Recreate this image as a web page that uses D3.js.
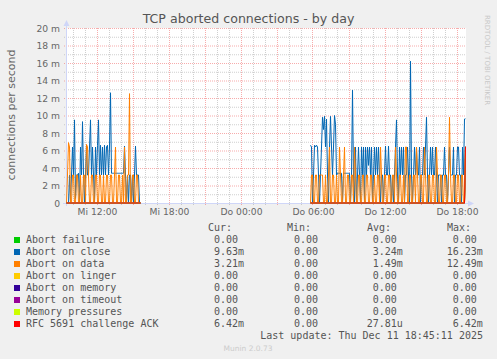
<!DOCTYPE html>
<html><head><meta charset="utf-8">
<script src="https://cdn.jsdelivr.net/npm/d3@7"></script>
<style>
html,body{margin:0;padding:0;background:#f0f0f0;}
svg{display:block;}
</style></head>
<body>
<svg id="chart" width="497" height="359"></svg>
<script>
// ---------- data (values in milli-connections per second, 5-minute steps) ----------
const seg1Start = new Date(2025, 11, 10, 9, 30);
const seg2Start = new Date(2025, 11, 11, 5, 50);
const stepMinutes = 5;

const close1 = [
  0, 0, 0, 3.2, 0, 3.2, 6.4, 3.2, 9.5, 0.5,
  3.2, 3.2, 3.4, 0, 6.4, 3.2, 9.3, 3.2, 0, 3.2,
  6.6, 3.2, 3.2, 6.4, 9.5, 3.2, 6.4, 3.2, 0, 6.4,
  3.2, 6.6, 9.5, 3.2, 6.6, 3.2, 6.4, 3.2, 6.6, 3.2,
  6.4, 6.6, 3.2, 6.4, 12.6, 3.4, 3.4, 3.4, 3.4, 3.4,
  3.4, 3.4, 3.4, 3.4, 3.4, 3.4, 3.4, 3.4, 6.5, 3.2,
  0, 3.2, 0, 3.2, 3.2, 0, 3.2, 0, 3.2, 6.5,
  3.2, 3.2, 3.2, 0, 0
];
const data1 = [
  0, 3.2, 6.9, 6.4, 0, 0, 3.2, 3.2, 0, 0,
  3.2, 3.2, 0, 0, 3.2, 0, 0, 3.2, 3.2, 0,
  6.7, 6.4, 3.2, 0, 0, 3.2, 3.2, 0, 0, 3.2,
  3.2, 0, 0, 3.2, 3.2, 0, 0, 3.2, 0, 0,
  3.2, 3.2, 0, 0, 3.2, 3.2, 0, 0, 3.2, 6.4,
  0, 0, 3.2, 3.2, 0, 0, 3.2, 0, 6.4, 0,
  0, 3.2, 3.2, 12.5, 0, 0, 3.2, 3.2, 0, 0,
  3.2, 3.2, 0, 0, 0
];
const rfc1 = [
  0,0,0,0,0,0,0,0,0,0, 0,0,0,0,0,0,0,0,0,0, 0,0,0,0,0,0,0,0,0,0,
  0,0,0,0,0,0,0,0,0,0, 0,0,0,0,0,0,0,0,0,0, 0,0,0,0,0,0,0,0,0,0,
  0,0,0,0,0,0,0,0,0,0, 0,0,0,0,0
];
const close2 = [
  6.6, 6.4, 0, 3.2, 6.6, 6.4, 6.6, 6.4, 3.2, 0,
  3.2, 6.4, 9.8, 8.4, 9.9, 6.4, 9.6, 3.2, 0, 6.4,
  9.9, 6.4, 3.2, 6.4, 10.0, 9.0, 3.2, 3.4, 3.4, 3.4,
  3.4, 3.4, 0, 3.4, 3.4, 3.4, 3.4, 3.4, 3.4, 3.4,
  0, 3.2, 12.9, 3.2, 0, 6.4, 0, 3.2, 6.4, 3.2,
  0, 6.4, 3.2, 6.4, 0, 6.4, 3.2, 6.4, 4.3, 6.4,
  3.2, 6.4, 0, 3.2, 6.4, 3.2, 6.4, 3.2, 6.4, 3.2,
  0, 3.2, 3.2, 0, 3.2, 6.5, 3.2, 3.2, 6.5, 3.2,
  3.2, 0, 3.2, 0, 3.2, 6.4, 9.5, 3.2, 0, 6.4,
  3.2, 6.4, 3.2, 6.4, 0, 3.2, 3.2, 6.4, 3.2, 0,
  16.2, 3.2, 0, 3.2, 6.4, 3.2, 6.4, 3.2, 3.2, 6.4,
  0, 3.2, 3.2, 6.4, 3.2, 6.4, 9.8, 3.2, 0, 3.2,
  6.4, 3.2, 6.4, 3.2, 3.2, 6.4, 3.2, 0, 3.2, 3.2,
  3.2, 0, 3.2, 3.2, 6.4, 3.2, 3.2, 0, 3.2, 6.4,
  3.2, 3.2, 3.2, 6.4, 0, 3.2, 3.2, 6.4, 6.4, 3.2,
  3.2, 0, 6.4, 3.2, 9.6, 9.63
];
const data2 = [
  0, 3.2, 3.2, 0, 0, 3.2, 3.2, 0, 0, 3.2,
  3.2, 3.2, 3.2, 0, 0, 3.2, 0, 0, 3.2, 6.4,
  0, 0, 3.2, 3.2, 0, 0, 3.2, 0, 0, 6.4,
  3.2, 0, 0, 3.2, 6.4, 0, 0, 3.2, 3.2, 0,
  0, 3.2, 3.2, 0, 6.4, 3.2, 0, 0, 3.2, 3.2,
  0, 0, 3.2, 3.2, 0, 0, 3.2, 3.2, 0, 0,
  3.2, 3.2, 0, 0, 3.2, 0, 0, 3.2, 3.2, 0,
  6.4, 3.2, 0, 0, 3.2, 3.2, 0, 0, 3.2, 3.2,
  0, 0, 3.2, 3.2, 0, 6.4, 3.2, 0, 0, 3.2,
  3.2, 0, 0, 3.2, 0, 6.4, 6.4, 0, 0, 3.2,
  3.2, 0, 0, 3.2, 3.2, 0, 6.4, 3.2, 0, 0,
  3.2, 3.2, 0, 0, 6.4, 3.2, 0, 0, 3.2, 3.2,
  0, 0, 3.2, 3.2, 0, 0, 6.4, 3.2, 0, 0,
  3.2, 3.2, 0, 0, 3.2, 3.2, 0, 0, 3.2, 9.8,
  3.2, 0, 0, 3.2, 3.2, 0, 0, 3.2, 3.2, 0,
  0, 3.2, 3.2, 0, 0, 3.21
];
const rfc2 = [
  0,0,0,0,0,0,0,0,0,0, 0,0,0,0,0,0,0,0,0,0, 0,0,0,0,0,0,0,0,0,0,
  0,0,0,0,0,0,0,0,0,0, 0,0,0,0,0,0,0,0,0,0, 0,0,0,0,0,0,0,0,0,0,
  0,0,0,0,0,0,0,0,0,0, 0,0,0,0,0,0,0,0,0,0, 0,0,0,0,0,0,0,0,0,0,
  0,0,0,0,0,0,0,0,0,0, 0,0,0,0,0,0,0,0,0,0, 0,0,0,0,0,0,0,0,0,0,
  0,0,0,0,0,0,0,0,0,0, 0,0,0,0,0,0,0,0,0,0, 0,0,0,0,0,0,0,0,0,0,
  0,0,0,0,0,6.42
];

const seriesNames = ["Abort failure", "Abort on close", "Abort on data", "Abort on linger",
  "Abort on memory", "Abort on timeout", "Memory pressures", "RFC 5691 challenge ACK"];
const seriesColors = ["#00cc00", "#0066b3", "#ff8000", "#ffcc00", "#330099", "#990099", "#ccff00", "#ff0000"];
const statCur = ["0.00", "9.63m", "3.21m", "0.00", "0.00", "0.00", "0.00", "6.42m"];
const statMin = ["0.00", "0.00", "0.00", "0.00", "0.00", "0.00", "0.00", "0.00"];
const statAvg = ["0.00", "3.24m", "1.49m", "0.00", "0.00", "0.00", "0.00", "27.81u"];
const statMax = ["0.00", "16.23m", "12.49m", "0.00", "0.00", "0.00", "0.00", "6.42m"];

const yTicks = [0, 2, 4, 6, 8, 10, 12, 14, 16, 18, 20];
const xLabelTimes = [new Date(2025,11,10,12,0), new Date(2025,11,10,18,0), new Date(2025,11,11,0,0),
  new Date(2025,11,11,6,0), new Date(2025,11,11,12,0), new Date(2025,11,11,18,0)];
const xLabels = ["Mi 12:00", "Mi 18:00", "Do 00:00", "Do 06:00", "Do 12:00", "Do 18:00"];
const timeStart = new Date(2025, 11, 10, 9, 27, 30);
const timeEnd = new Date(2025, 11, 11, 18, 47, 30);

// ---------- build ----------
const svg = d3.select("#chart");
const W = 497, H = 359;
const L = 66, R = 466, T = 28, B = 203;
const x = d3.scaleTime().domain([timeStart, timeEnd]).range([L, R]);
const y = d3.scaleLinear().domain([0, 20]).range([B, T]);

svg.append("rect").attr("width", W).attr("height", H).attr("fill", "#f0f0f0");
svg.append("rect").attr("x", L).attr("y", T).attr("width", R - L).attr("height", B - T).attr("fill", "#ffffff");

const minorCol = "rgba(160,160,160,0.5)", majorCol = "rgba(240,90,90,0.5)";
// horizontal grid
const g = svg.append("g");
d3.range(1, 21).forEach(v => {
  const major = v % 2 === 0;
  g.append("line").attr("x1", L - 2).attr("x2", R).attr("y1", y(v) + 0.5).attr("y2", y(v) + 0.5)
    .attr("stroke", major ? majorCol : minorCol).attr("stroke-width", 1).attr("stroke-dasharray", "1,1");
});
// vertical grid: hourly minor, 3-hourly major
const hours = d3.timeHour.range(timeStart, timeEnd);
hours.forEach(h => {
  const major = h.getHours() % 3 === 0;
  const xx = Math.round(x(h)) + 0.5;
  g.append("line").attr("x1", xx).attr("x2", xx).attr("y1", T).attr("y2", B + 3)
    .attr("stroke", major ? majorCol : minorCol).attr("stroke-width", 1).attr("stroke-dasharray", "1,1");
});

// axes lines with arrows
const axisCol = "#cfd6f8";
svg.append("line").attr("x1", L + 0.5).attr("x2", L + 0.5).attr("y1", B + 3).attr("y2", T - 6)
  .attr("stroke", axisCol).attr("stroke-width", 1);
svg.append("path").attr("d", `M${L - 2.5},${T - 2} L${L + 0.5},${T - 8} L${L + 3.5},${T - 2} Z`).attr("fill", axisCol);
svg.append("line").attr("x1", L - 3).attr("x2", R + 6).attr("y1", B + 0.5).attr("y2", B + 0.5)
  .attr("stroke", axisCol).attr("stroke-width", 1);
svg.append("path").attr("d", `M${R + 2},${B - 2.5} L${R + 8},${B + 0.5} L${R + 2},${B + 3.5} Z`).attr("fill", axisCol);

// y axis labels
const fontCol = "#666666";
const yAxis = d3.axisLeft(y).tickValues(yTicks).tickSize(0).tickPadding(0)
  .tickFormat(d => d === 0 ? "0" : d + " m");
const ya = svg.append("g").attr("transform", `translate(${L - 6},0.5)`).call(yAxis);
ya.select(".domain").remove();
ya.selectAll("text").attr("fill", fontCol).style("font-family", "DejaVu Sans").style("font-size", "9.2px");

// x axis labels
const xAxis = d3.axisBottom(x).tickValues(xLabelTimes).tickSize(0).tickPadding(0)
  .tickFormat((d, i) => xLabels[i]);
const xa = svg.append("g").attr("transform", `translate(0.5,${B + 5})`).call(xAxis);
xa.select(".domain").remove();
xa.selectAll("text").attr("fill", fontCol).style("font-family", "DejaVu Sans").style("font-size", "9.2px");

// series lines
const line = d3.line().x(d => x(d.t)).y(d => y(d.v));
function toPts(start, arr) {
  return arr.map((v, i) => ({ t: new Date(start.getTime() + i * stepMinutes * 60000), v }));
}
const seriesData = [
  [rfc1, rfc2], [close1, close2], [data1, data2], [rfc1, rfc2],
  [rfc1, rfc2], [rfc1, rfc2], [rfc1, rfc2], [rfc1, rfc2]
];
seriesData.forEach((segs, si) => {
  [[seg1Start, segs[0]], [seg2Start, segs[1]]].forEach(([s, arr]) => {
    svg.append("path").datum(toPts(s, arr)).attr("d", line)
      .attr("fill", "none").attr("stroke", seriesColors[si]).attr("stroke-width", 1);
  });
});

// title
svg.append("text").attr("x", 248.5).attr("y", 23).attr("text-anchor", "middle")
  .attr("fill", "#555555").style("font-family", "DejaVu Sans").style("font-size", "12.6px")
  .text("TCP aborted connections - by day");

// y title
svg.append("text").attr("transform", "translate(15,115) rotate(-90)").attr("text-anchor", "middle")
  .attr("fill", fontCol).style("font-family", "DejaVu Sans").style("font-size", "11px")
  .text("connections per second");

// rrdtool watermark
svg.append("text").attr("transform", "translate(484.5,15) rotate(90)").attr("text-anchor", "start")
  .attr("fill", "#c8c8c8").style("font-family", "DejaVu Sans").style("font-size", "7px")
  .text("RRDTOOL / TOBI OETIKER");

// legend
const mono = "DejaVu Sans Mono";
const lg = svg.append("g").style("font-family", mono).style("font-size", "10px").attr("fill", "#555555");
const pad = (s, n) => (" ".repeat(Math.max(0, n - s.replace(/[mu]$/, "").length)) + s);
[["Cur:", 208], ["Min:", 287], ["Avg:", 367], ["Max:", 447]].forEach(([t, xx]) => {
  lg.append("text").attr("x", xx).attr("y", 231).text(t);
});
const colX = [202, 282, 360.7, 440.7];
seriesNames.forEach((name, i) => {
  const by = 243.3 + 12 * i;
  svg.append("rect").attr("x", 14).attr("y", by - 6.3).attr("width", 6).attr("height", 6)
    .attr("fill", seriesColors[i]);
  lg.append("text").attr("x", 26).attr("y", by).text(name);
  [statCur, statMin, statAvg, statMax].forEach((arr, c) => {
    lg.append("text").attr("x", colX[c]).attr("y", by).attr("xml:space", "preserve")
      .style("white-space", "pre").text(pad(arr[i], 6));
  });
});
lg.append("text").attr("x", 483).attr("y", 339.3).attr("text-anchor", "end")
  .text("Last update: Thu Dec 11 18:45:11 2025");

svg.append("text").attr("x", 248).attr("y", 351).attr("text-anchor", "middle")
  .attr("fill", "#cccccc").style("font-family", "DejaVu Sans").style("font-size", "7.5px")
  .text("Munin 2.0.73");
</script>
</body></html>
